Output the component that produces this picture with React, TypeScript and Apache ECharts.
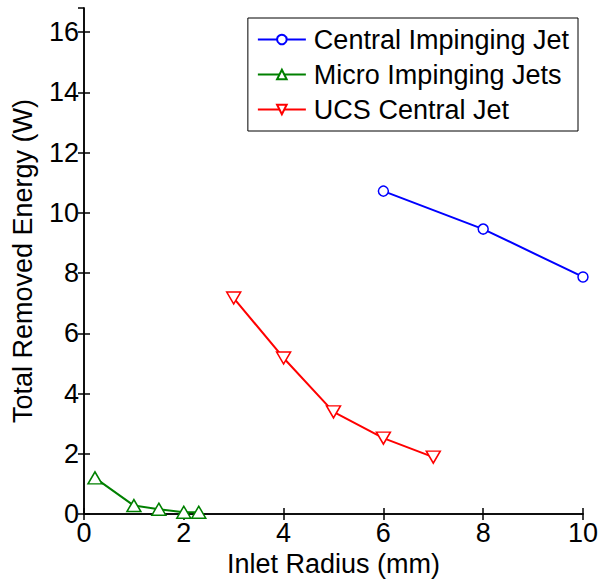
import React, { useEffect, useRef } from "react";
import * as echarts from "echarts";

const centralX = [6, 8, 10];
const centralY = [10.72, 9.46, 7.87];
const microX = [0.22, 1.0, 1.5, 2.0, 2.3];
const microY = [1.2, 0.28, 0.16, 0.06, 0.06];
const ucsX = [3, 4, 5, 6, 7];
const ucsY = [7.17, 5.18, 3.39, 2.52, 1.89];
const seriesNames = ["Central Impinging Jet", "Micro Impinging Jets", "UCS Central Jet"];

const FONT = "'Liberation Sans', Arial, sans-serif";

function zip(xs: number[], ys: number[]) {
  return xs.map((x, i) => [x, ys[i]]);
}

export default function App() {
  const ref = useRef<HTMLDivElement>(null);
  useEffect(() => {
    if (!ref.current) return;
    const chart = echarts.init(ref.current, undefined, { renderer: "svg" });
    const axisLine = { show: true, lineStyle: { color: "#000", width: 1.5 } };
    const tick = { show: true, inside: true, length: 6, lineStyle: { color: "#000", width: 1.5 } };
    const label = { color: "#000", fontSize: 27, fontFamily: FONT };
    chart.setOption({
      animation: false,
      grid: { left: 84, right: 18, top: 8, bottom: 69, show: false },
      legend: {
        orient: "vertical",
        right: 23,
        top: 18,
        data: seriesNames,
        backgroundColor: "#fff",
        borderColor: "#000",
        borderWidth: 1,
        padding: [8, 9, 8, 9],
        itemGap: 8,
        itemWidth: 48,
        itemHeight: 12,
        lineStyle: { width: 2 },
        textStyle: { color: "#000", fontSize: 27, fontFamily: FONT, padding: [0, 0, 0, 3] },
      },
      xAxis: [
        {
          type: "value",
          min: 0,
          max: 10,
          interval: 2,
          axisLine,
          axisTick: tick,
          splitLine: { show: false },
          axisLabel: { ...label, margin: 5 },
          name: "Inlet Radius (mm)",
          nameLocation: "middle",
          nameGap: 36,
          nameTextStyle: { ...label },
        },
        {
          type: "value",
          position: "top",
          min: 0,
          max: 10,
          interval: 2,
          axisLine,
          axisTick: tick,
          splitLine: { show: false },
          axisLabel: { show: false },
        },
      ],
      yAxis: [
        {
          type: "value",
          min: 0,
          max: 16.8,
          interval: 2,
          axisLine,
          axisTick: tick,
          splitLine: { show: false },
          axisLabel: {
            ...label,
            margin: 5,
            showMaxLabel: false,
            formatter: (v: number) => (Math.abs(v % 2) < 1e-6 ? String(v) : ""),
          },
          name: "Total Removed Energy (W)",
          nameLocation: "middle",
          nameGap: 48,
          nameTextStyle: { ...label },
        },
        {
          type: "value",
          position: "right",
          min: 0,
          max: 16.8,
          interval: 2,
          axisLine,
          axisTick: tick,
          splitLine: { show: false },
          axisLabel: { show: false },
        },
      ],
      series: [
        {
          name: seriesNames[0],
          type: "line",
          data: zip(centralX, centralY),
          symbol: "circle",
          symbolSize: 10,
          lineStyle: { color: "#0000ff", width: 2 },
          itemStyle: { color: "#fff", borderColor: "#0000ff", borderWidth: 1.5 },
        },
        {
          name: seriesNames[1],
          type: "line",
          data: zip(microX, microY),
          symbol: "triangle",
          symbolSize: [14, 12],
          lineStyle: { color: "#008000", width: 2 },
          itemStyle: { color: "#fff", borderColor: "#008000", borderWidth: 1.5 },
        },
        {
          name: seriesNames[2],
          type: "line",
          data: zip(ucsX, ucsY),
          symbol: "triangle",
          symbolRotate: 180,
          symbolSize: [14, 12],
          lineStyle: { color: "#ff0000", width: 2 },
          itemStyle: { color: "#fff", borderColor: "#ff0000", borderWidth: 1.5 },
        },
      ],
    });
    return () => chart.dispose();
  }, []);
  return (
    <div
      ref={ref}
      style={{ position: "fixed", left: 0, top: 0, width: 601, height: 583, background: "#fff" }}
    />
  );
}
